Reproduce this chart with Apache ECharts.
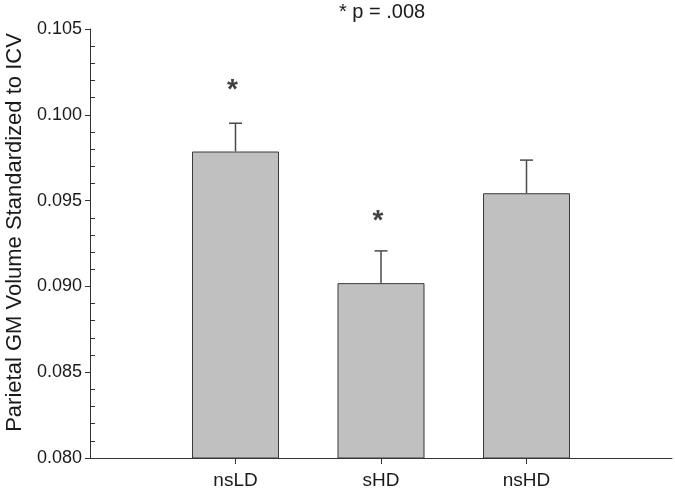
<!DOCTYPE html>
<html>
<head>
<meta charset="utf-8">
<script src="https://cdn.jsdelivr.net/npm/echarts@6/dist/echarts.min.js"></script>
<style>
  html, body { margin: 0; padding: 0; background: #fff; }
  #c1 { width: 675px; height: 492px; }
</style>
</head>
<body>
<div id="c1"></div>
<script>
// groups and values
const groups = ['nsLD', 'sHD', 'nsHD']
const means = [0.09786, 0.09019, 0.09543]
const errTop = [0.09951, 0.09207, 0.09736]
// where the significance stars sit (null = no star)
const stars = [0.10142, 0.09382, null]
const yTicks = [0.080, 0.085, 0.090, 0.095, 0.100, 0.105]
const minorTicks = [0.081, 0.082, 0.083, 0.084, 0.086, 0.087, 0.088, 0.089,
  0.091, 0.092, 0.093, 0.094, 0.096, 0.097, 0.098, 0.099,
  0.101, 0.102, 0.103, 0.104]

const font = 'Liberation Sans, Arial, sans-serif'
const ink = '#1a1a1a'
const lineColor = '#333'

// empty slot on both ends so the three bars sit at 1/4, 2/4, 3/4 of the axis
const xCats = [''].concat(groups, [''])
const pad = (arr) => ['-'].concat(arr.map((v) => (v === null ? '-' : v)), ['-'])

const chart = echarts.init(document.getElementById('c1'))

const option = {
  animation: false,
  title: {
    text: '* p = .008',
    left: 339,
    top: 2,
    padding: 0,
    textStyle: { fontFamily: font, fontSize: 20, fontWeight: 'normal', color: ink }
  },
  grid: { left: 90, right: 3, top: 29, bottom: 34, outerBoundsMode: 'none', containLabel: false },
  xAxis: {
    type: 'category',
    data: xCats,
    boundaryGap: false,
    axisLine: { lineStyle: { color: lineColor, width: 1 } },
    axisTick: {
      interval: (i) => i > 0 && i < xCats.length - 1,
      length: 6,
      lineStyle: { color: lineColor }
    },
    axisLabel: {
      interval: 0,
      margin: 13,
      fontFamily: font,
      fontSize: 19,
      color: ink
    }
  },
  yAxis: [
    {
      type: 'value',
      min: 0.08,
      max: 0.105,
      interval: 0.005,
      name: 'Parietal GM Volume Standardized to ICV',
      nameLocation: 'middle',
      nameGap: 62,
      nameTextStyle: { fontFamily: font, fontSize: 22, color: ink, padding: [0, 0, 0, 22] },
      axisLine: { show: true, lineStyle: { color: lineColor, width: 1 } },
      axisTick: { show: true, length: 5, lineStyle: { color: lineColor } },
      axisLabel: {
        margin: 8,
        fontFamily: font,
        fontSize: 18,
        color: ink,
        customValues: yTicks,
        formatter: (v) => v.toFixed(3)
      },
      splitLine: { show: false }
    },
    {
      // inner minor ticks: a bare axis laid over the left edge
      type: 'value',
      min: 0.08,
      max: 0.105,
      position: 'right',
      offset: -582,
      axisLine: { show: false },
      axisTick: { show: true, length: 5, customValues: minorTicks, lineStyle: { color: lineColor } },
      axisLabel: { show: false },
      splitLine: { show: false }
    }
  ],
  series: [
    {
      type: 'bar',
      data: pad(means),
      barWidth: 87,
      itemStyle: { color: '#c0c0c0', borderColor: '#3a3a3a', borderWidth: 1 },
      z: 2
    },
    {
      type: 'custom',
      data: pad(means).map((m, i) => [i, m, pad(errTop)[i]]),
      renderItem: (params, api) => {
        const lo = api.value(1)
        const hi = api.value(2)
        if (isNaN(lo) || isNaN(hi)) return
        const p0 = api.coord([api.value(0), lo])
        const p1 = api.coord([api.value(0), hi])
        const half = 6.5
        const style = { stroke: '#4a4a4a', lineWidth: 1.5 }
        return {
          type: 'group',
          children: [
            { type: 'line', shape: { x1: p0[0], y1: p0[1], x2: p1[0], y2: p1[1] }, style },
            { type: 'line', shape: { x1: p1[0] - half, y1: p1[1], x2: p1[0] + half, y2: p1[1] }, style }
          ]
        }
      },
      z: 3
    },
    {
      type: 'scatter',
      data: pad(stars),
      symbolSize: 0,
      label: {
        show: true,
        position: 'inside',
        offset: [-3, 0],
        formatter: '*',
        fontFamily: font,
        fontSize: 28,
        fontWeight: 'bold',
        color: '#111'
      },
      z: 4
    }
  ]
}

chart.setOption(option)
</script>
</body>
</html>
